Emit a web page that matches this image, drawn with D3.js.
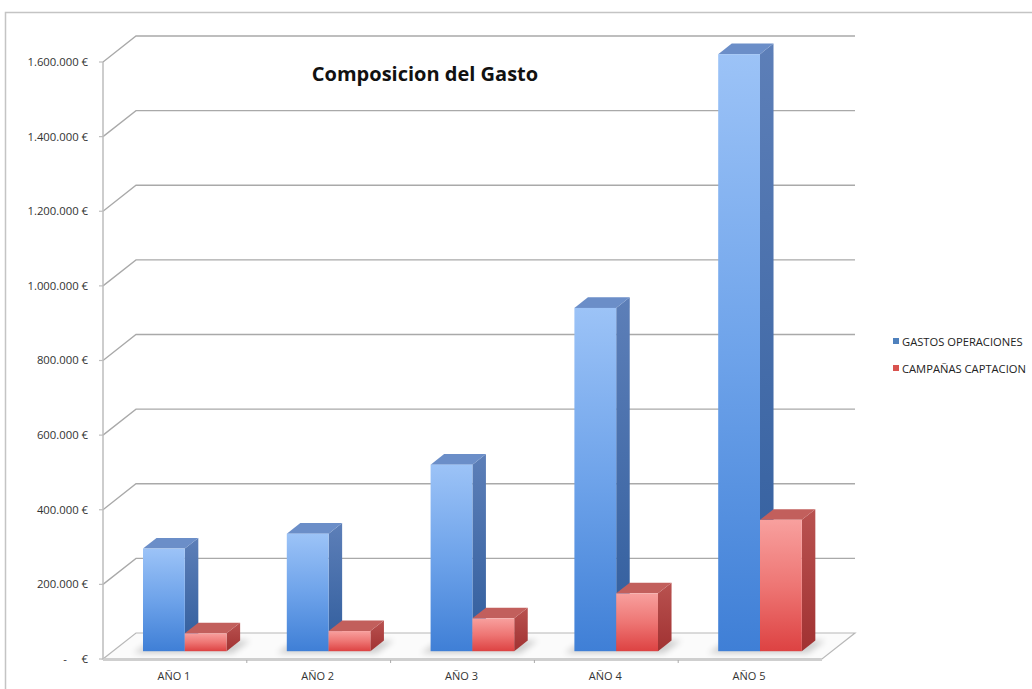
<!DOCTYPE html>
<html>
<head>
<meta charset="utf-8">
<script src="https://cdn.jsdelivr.net/npm/d3@7"></script>
<style>
  html, body { margin: 0; padding: 0; background: #fff; }
  svg { display: block; }
</style>
</head>
<body>
<svg id="chart" width="1032" height="689"></svg>
<script>
// Gasto anual por partida (euros)
const categories = ["AÑO 1", "AÑO 2", "AÑO 3", "AÑO 4", "AÑO 5"];
const seriesNames = ["GASTOS OPERACIONES", "CAMPAÑAS CAPTACION"];
const gastosOperaciones = [275000, 315000, 500000, 920000, 1600000];
const campanasCaptacion = [48000, 54000, 88000, 155000, 352000];
const yTicks = [0, 200000, 400000, 600000, 800000, 1000000, 1200000, 1400000, 1600000];
const title = "Composicion del Gasto";

const es = d3.formatLocale({ decimal: ",", thousands: ".", grouping: [3], currency: ["", " €"] });
const fmt = v => v === 0 ? "-     €" : es.format(",.0f")(v) + " €";

const svg = d3.select("#chart");
const defs = svg.append("defs");

// Oblique 3D projection: depth moves right and up
const wallDx = 33, wallDy = -26;          // full depth of the floor
const barZ0 = 0.3, barZ1 = 0.71;          // bar front/back as fraction of depth
const x0 = 103, x1 = 822;                 // front edge of the floor
const y = d3.scaleLinear().domain([0, 1600000]).range([659, 62]);
const x = d3.scaleBand().domain(categories).range([x0, x1]);
const inner = d3.scaleBand().domain(seriesNames).range([0, x.bandwidth()]).paddingOuter(0.72).paddingInner(0);

// Frame
svg.append("rect").attr("x", 5.5).attr("y", 12.5).attr("width", 1100).attr("height", 700)
  .attr("fill", "#fff").attr("stroke", "#c4c4c4").attr("stroke-width", 1.5);

// Floor
const floorPts = [[x0, y(0)], [x1, y(0)], [x1 + wallDx, y(0) + wallDy], [x0 + wallDx, y(0) + wallDy]];
svg.append("polygon").attr("points", floorPts.map(p => p.join(",")).join(" "))
  .attr("fill", "#fbfbfb").attr("stroke", "#b8b8b8").attr("stroke-width", 1.2);
svg.append("line").attr("x1", x0).attr("x2", x1).attr("y1", y(0) + 0.5).attr("y2", y(0) + 0.5)
  .attr("stroke", "#cfcfcf").attr("stroke-width", 3);

// Gridlines on side and back walls
const grid = svg.append("g");
yTicks.filter(t => t > 0).forEach(t => {
  const yy = y(t);
  grid.append("polyline")
    .attr("points", `${x0},${yy} ${x0 + wallDx},${yy + wallDy} ${x1 + wallDx},${yy + wallDy}`)
    .attr("fill", "none").attr("stroke", "#a9a9a9").attr("stroke-width", 1.3);
});

// Front value axis
svg.append("line").attr("x1", x0).attr("x2", x0).attr("y1", y(1600000)).attr("y2", y(0))
  .attr("stroke", "#bdbdbd").attr("stroke-width", 1.5);
const yAxis = svg.append("g").attr("font-family", "Open Sans, sans-serif").attr("font-size", 11.3).attr("fill", "#333");
yTicks.forEach(t => {
  yAxis.append("line").attr("x1", x0 - 4).attr("x2", x0).attr("y1", y(t)).attr("y2", y(t))
    .attr("stroke", "#bdbdbd").attr("stroke-width", 1.2);
  yAxis.append("text").attr("x", 88).attr("y", y(t)).attr("dy", "0.35em")
    .attr("text-anchor", "end").style("white-space", "pre").text(fmt(t));
});

// Category ticks and labels
const xAxis = svg.append("g").attr("font-family", "Open Sans, sans-serif").attr("font-size", 11).attr("fill", "#333");
categories.forEach((c, i) => {
  if (i > 0) xAxis.append("line").attr("x1", x(c)).attr("x2", x(c)).attr("y1", y(0) + 1).attr("y2", y(0) + 4)
    .attr("stroke", "#aaa");
  xAxis.append("text").attr("x", x(c) + x.bandwidth() / 2 - 1).attr("y", 680)
    .attr("text-anchor", "middle").text(c);
});

// Gradients for bar faces
function grad(id, stops, horiz) {
  const g = defs.append("linearGradient").attr("id", id)
    .attr("x1", 0).attr("y1", 0).attr("x2", horiz ? 1 : 0).attr("y2", horiz ? 0 : 1);
  stops.forEach(([o, c]) => g.append("stop").attr("offset", o).attr("stop-color", c));
}
grad("blueFront", [[0, "#9cc3f7"], [0.5, "#6ea3ea"], [1, "#3f7fd6"]]);
grad("blueSide", [[0, "#5d7fb8"], [1, "#2f5c9c"]]);
grad("redFront", [[0, "#f8a09e"], [0.5, "#ee7674"], [1, "#dd4242"]]);
grad("redSide", [[0, "#b95250"], [1, "#a13232"]]);
const styles = [
  { front: "url(#blueFront)", side: "url(#blueSide)", top: "#6b8ec8", legend: "#4f81bd" },
  { front: "url(#redFront)", side: "url(#redSide)", top: "#c25f5c", legend: "#d9534f" }
];

defs.append("filter").attr("id", "soft").attr("x", "-50%").attr("y", "-50%").attr("width", "200%").attr("height", "200%")
  .append("feGaussianBlur").attr("stdDeviation", 3);

// Bars
const series = [gastosOperaciones, campanasCaptacion];
const bx0 = barZ0 * wallDx, by0 = barZ0 * wallDy;
const ddx = (barZ1 - barZ0) * wallDx, ddy = (barZ1 - barZ0) * wallDy;
const bars = svg.append("g");
categories.forEach((c, i) => {
  // soft shadow on the floor
  const gx = x(c) + inner(seriesNames[0]) + bx0;
  const gw = inner.bandwidth() * 2;
  const yb = y(0) + by0;
  bars.append("polygon")
    .attr("points", `${gx - 10},${yb + 2} ${gx + gw + 6},${yb + 2} ${gx + gw + ddx + 10},${yb + ddy} ${gx + ddx - 4},${yb + ddy}`)
    .attr("fill", "#000").attr("opacity", 0.18).attr("filter", "url(#soft)");
  series.forEach((vals, s) => {
    const st = styles[s];
    const left = x(c) + inner(seriesNames[s]) + bx0;
    const right = left + inner.bandwidth();
    const top = y(vals[i]) + by0;
    const base = y(0) + by0;
    const g = bars.append("g");
    g.append("polygon")
      .attr("points", `${right},${base} ${right},${top} ${right + ddx},${top + ddy} ${right + ddx},${base + ddy}`)
      .attr("fill", st.side);
    g.append("polygon")
      .attr("points", `${left},${top} ${right},${top} ${right + ddx},${top + ddy} ${left + ddx},${top + ddy}`)
      .attr("fill", st.top);
    g.append("rect").attr("x", left).attr("y", top).attr("width", right - left).attr("height", base - top)
      .attr("fill", st.front);
  });
});

// Title
svg.append("text").attr("x", 425).attr("y", 81).attr("text-anchor", "middle")
  .attr("font-family", "Open Sans, sans-serif").attr("font-weight", "bold").attr("font-size", 20)
  .attr("fill", "#111").text(title);

// Legend
const legend = svg.append("g").attr("font-family", "Open Sans, sans-serif").attr("font-size", 11.2).attr("fill", "#222");
seriesNames.forEach((n, s) => {
  const ly = 342 + s * 27;
  legend.append("rect").attr("x", 893).attr("y", ly - 4).attr("width", 6).attr("height", 6).attr("fill", styles[s].legend);
  legend.append("text").attr("x", 902).attr("y", ly).attr("dy", "0.35em").text(n);
});
</script>
</body>
</html>
